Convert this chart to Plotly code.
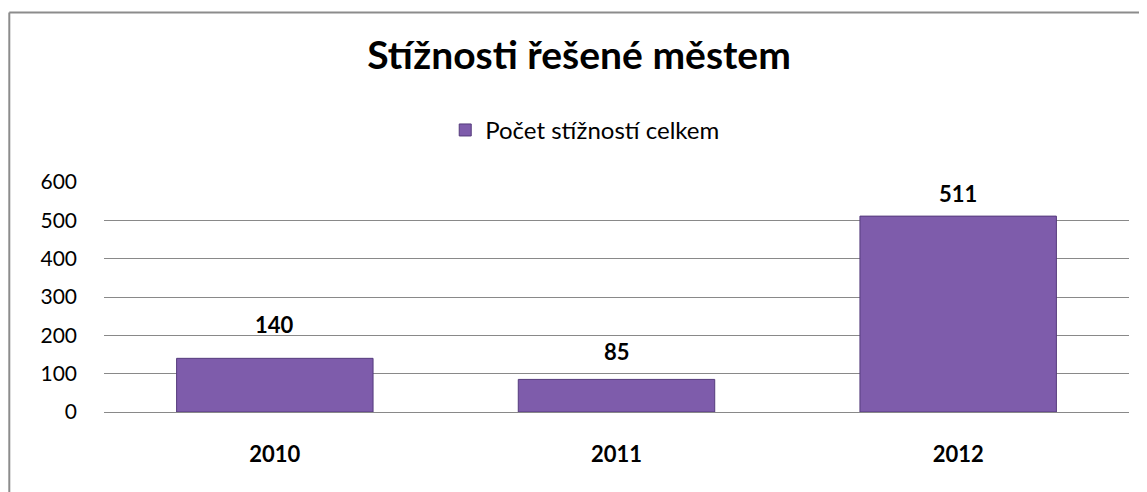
import plotly.graph_objects as go

categories = ["2010", "2011", "2012"]
values = [140, 85, 511]
series_name = "Počet stížností celkem"
title_text = "Stížnosti řešené městem"
y_ticks = [0, 100, 200, 300, 400, 500, 600]

# style: per-label vertical offset (px) above the bar top
label_shift = [18, 12, 7]

# the page body has an 8px margin, so the figure is sized to fit inside the window
W, H = 1139, 484
ML, MT = 96, 173.7
PW, PH = 1025, 230.3
MR = W - ML - PW
MB = H - MT - PH

FONT = "Lato, Calibri, Arial, sans-serif"

fig = go.Figure()
fig.add_trace(go.Bar(
    x=categories, y=values, name=series_name,
    marker=dict(color="#7e5cab", line=dict(color="#553b7c", width=1)),
    showlegend=True,
))

# data labels: annotations placed at the category index on the category axis
for i, (v, s) in enumerate(zip(values, label_shift)):
    fig.add_annotation(x=i, y=v, xref="x", yref="y", text=str(v), showarrow=False,
                       yanchor="bottom", yshift=s,
                       font=dict(family=FONT, size=22, color="#000000", weight="bold"))


def px_to_paper_x(px):
    return (px - ML) / PW


def px_to_paper_y(py):
    return (H - MB - py) / PH


fig.update_layout(
    width=W, height=H,
    margin=dict(l=ML, r=MR, t=MT, b=MB, autoexpand=False),
    paper_bgcolor="white", plot_bgcolor="white",
    bargap=0.425,
    title=dict(text=title_text, x=571 / W, xanchor="center", y=1 - 47 / H, yanchor="middle",
               font=dict(family=FONT, size=39, color="#000000", weight="bold")),
    legend=dict(orientation="h", x=0.469, xanchor="center", y=px_to_paper_y(122), yanchor="middle",
                font=dict(family=FONT, size=24, color="#000000"), itemwidth=30,
                bgcolor="rgba(0,0,0,0)"),
    xaxis=dict(type="category", range=[-0.5, len(categories) - 0.5], showgrid=False, showline=False,
               ticks="", ticklabelstandoff=27,
               tickfont=dict(family=FONT, size=22, color="#000000", weight="bold")),
    yaxis=dict(range=[0, 600], tickvals=y_ticks, showgrid=True, gridcolor="#898989", gridwidth=1.4,
               zeroline=True, zerolinecolor="#898989", zerolinewidth=1.4, showline=False,
               ticks="", ticklabelstandoff=26,
               tickfont=dict(family=FONT, size=21, color="#000000")),
    shapes=[
        dict(type="line", xref="paper", yref="paper",
             x0=px_to_paper_x(1.3), x1=px_to_paper_x(1.3), y0=px_to_paper_y(4), y1=px_to_paper_y(H + 10),
             line=dict(color="#8c8c8c", width=2)),
        dict(type="line", xref="paper", yref="paper",
             x0=px_to_paper_x(1.3), x1=px_to_paper_x(W + 10), y0=px_to_paper_y(4), y1=px_to_paper_y(4),
             line=dict(color="#8c8c8c", width=2)),
    ],
)

fig.write_html("out.html")
